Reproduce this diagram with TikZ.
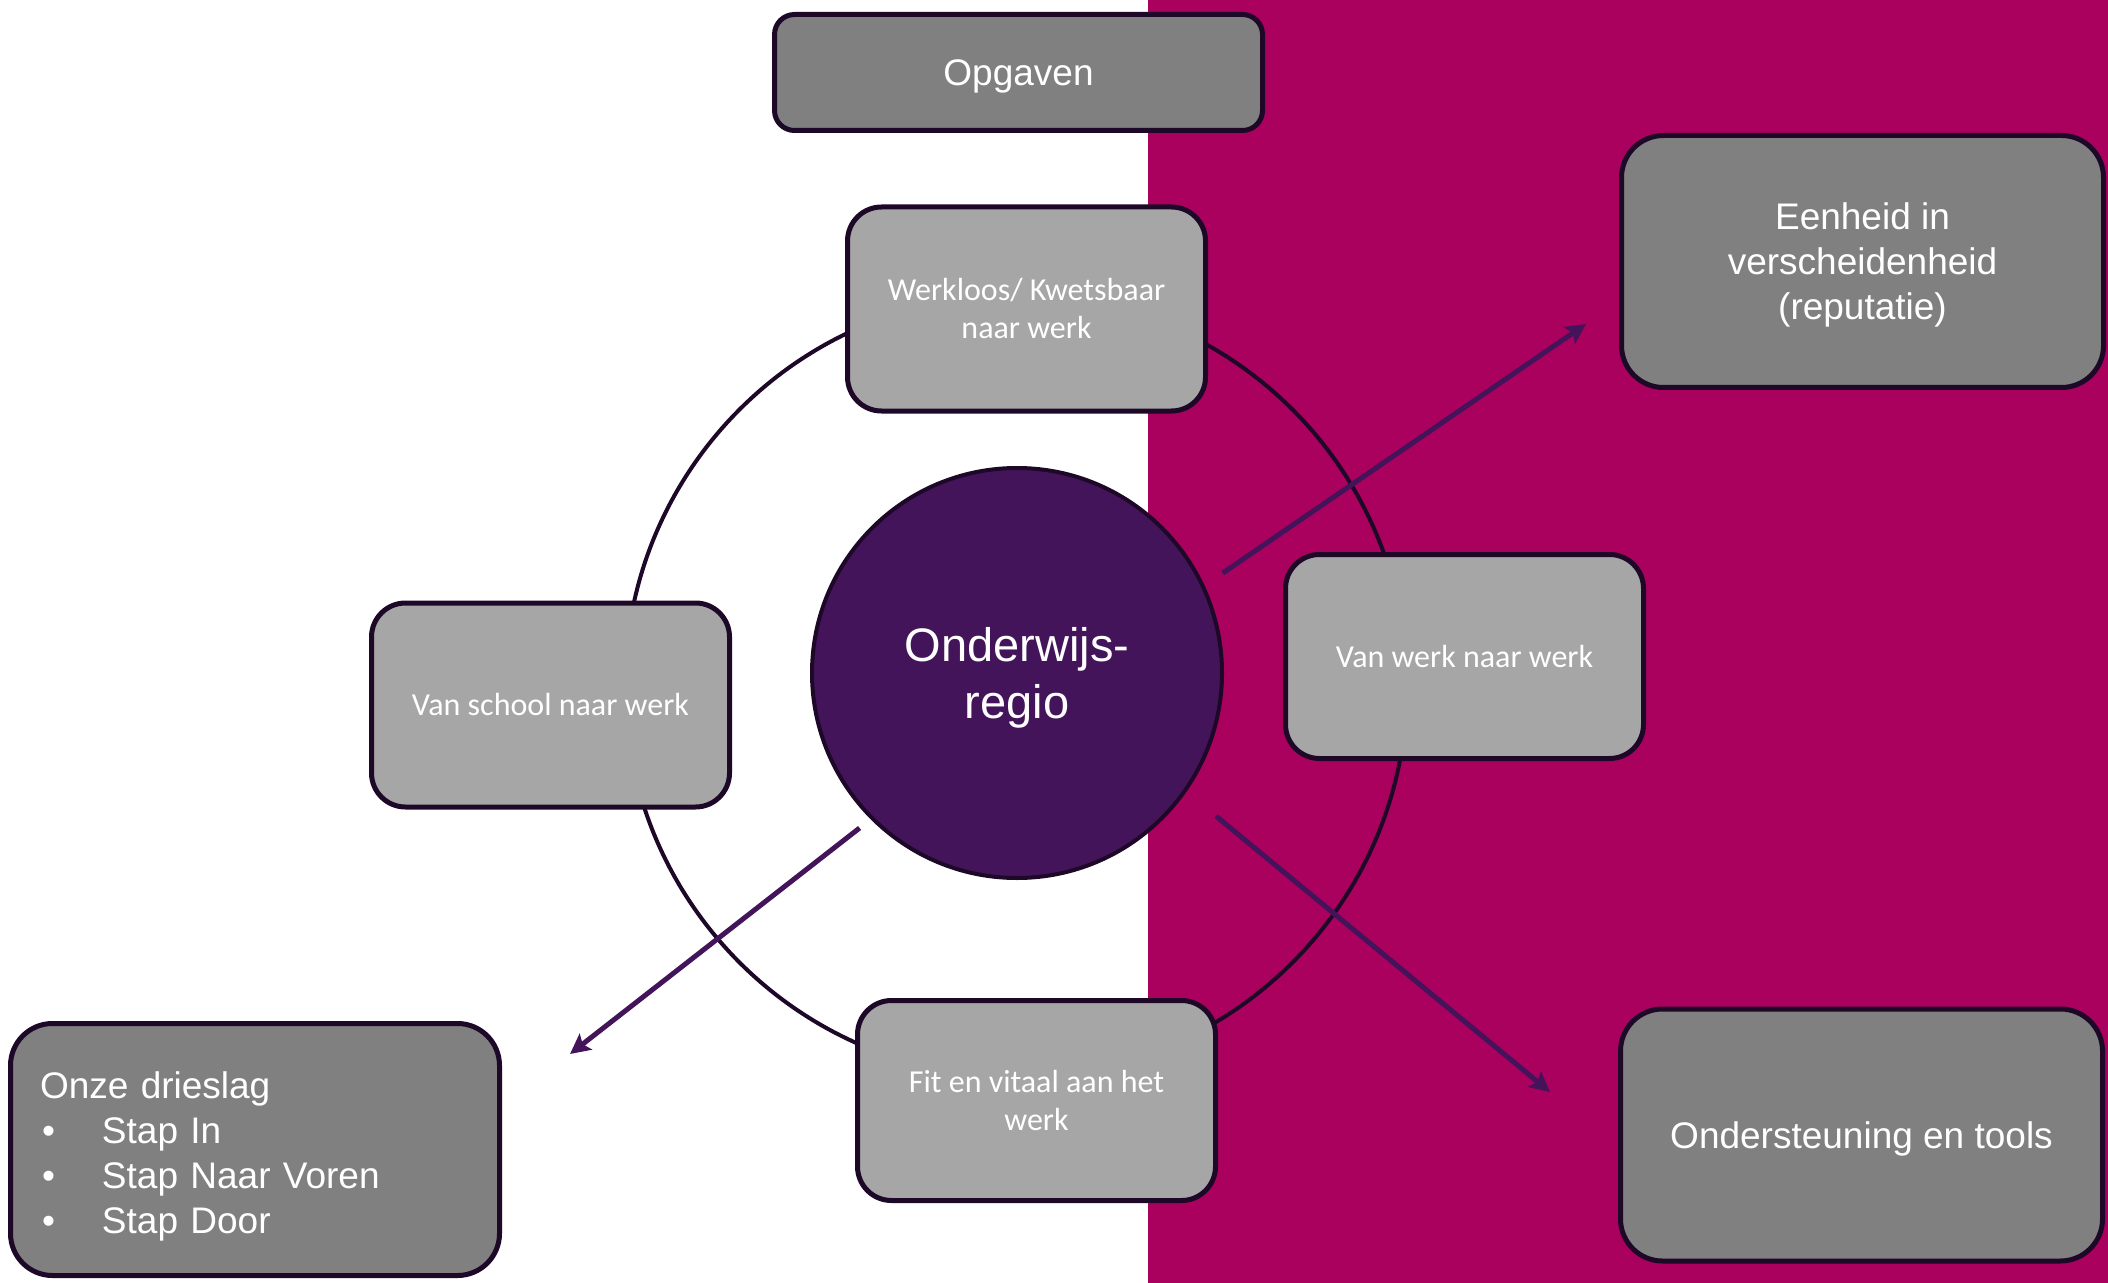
\documentclass[tikz,border=0pt]{standalone}
\usepackage{fontspec}
\setmainfont{Liberation Sans}
\newfontfamily\calibri{Carlito}
\usetikzlibrary{arrows.meta}
\definecolor{regiorood}{RGB}{170,0,94}
\definecolor{paars}{RGB}{67,20,90}
\definecolor{rand}{RGB}{30,8,40}
\definecolor{donkergrijs}{RGB}{128,128,128}
\definecolor{lichtgrijs}{RGB}{166,166,166}
\begin{document}
\begin{tikzpicture}[x=0.5pt,y=-0.5pt,
    blok/.style={draw=rand,line width=2.5pt,text=white,align=center,inner sep=0pt},
    groot/.style={blok,fill=donkergrijs,rounded corners=21pt,minimum width=241pt,minimum height=126pt,text depth=0pt,font=\fontsize{18.5pt}{22.5pt}\selectfont},
    klein/.style={blok,fill=lichtgrijs,rounded corners=17pt,minimum width=179pt,minimum height=102pt,font=\calibri\fontsize{16pt}{19pt}\selectfont},
    pijl/.style={draw=paars,line width=2.5pt,-{Stealth[length=10pt,width=10pt,inset=2pt]}}]
        \useasboundingbox (0,0) rectangle (2108,1283);
        \fill[regiorood] (1148,0) rectangle (2108,1283);

        \draw[rand,line width=2pt] (1016,686) circle (391);

        \node[blok,fill=donkergrijs,rounded corners=10pt,minimum width=244pt,minimum height=58pt,text depth=0pt,font=\fontsize{18.5pt}{22.5pt}\selectfont] (opgaven) at (1018.5,72.5) {Opgaven};

        \node[klein] (werkloos) at (1026.5,309) {Werkloos/ Kwetsbaar\\naar werk};
        \node[klein] (school) at (550.5,705) {Van school naar werk};
        \node[klein] (werk) at (1464.5,656.5) {Van werk naar werk};
        \node[klein,minimum height=100pt] (fit) at (1036.5,1100.5) {Fit en vitaal aan het\\werk};

        \node[groot] (eenheid) at (1862.5,261.5) {Eenheid in\\verscheidenheid\\(reputatie)};
        \node[groot] (steun) at (1861.5,1135) {Ondersteuning en tools};
        \node[groot,align=left,text width=215pt,inner xsep=14.75pt,text depth=64.4pt] (drieslag) at (255,1149.5) {Onze drieslag\\
            \hspace*{1pt}\makebox[30pt][l]{\textbullet}Stap In\\
            \hspace*{1pt}\makebox[30pt][l]{\textbullet}Stap Naar Voren\\
            \hspace*{1pt}\makebox[30pt][l]{\textbullet}Stap Door};

        \node[circle,draw=rand,line width=2pt,fill=paars,text=white,align=center,inner sep=0pt,minimum size=205pt,text depth=-1.5pt,font=\fontsize{23.5pt}{28.9pt}\selectfont] (hub) at (1017,673) {Onderwijs-\\regio};

        \coordinate (naareenheid) at (1586,324);
        \coordinate (naardrieslag) at (570,1054);
        \coordinate (naarsteun) at (1550,1092);

        \draw[pijl,shorten <=11pt] (hub.25) -- (naareenheid);
        \draw[pijl,shorten <=7pt] (hub.225) -- (naardrieslag);
        \draw[pijl,shorten <=19pt] (hub.-35) -- (naarsteun);
    \end{tikzpicture}
\end{document}
